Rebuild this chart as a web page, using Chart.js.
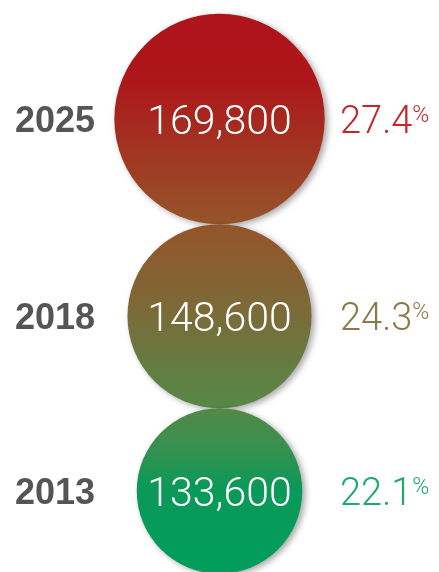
<!DOCTYPE html>
<html>
<head>
<meta charset="utf-8">
<script src="https://cdn.jsdelivr.net/npm/chart.js@4"></script>
<style>
  body { margin: 0; background: #fff; }
  #wrap { width: 439px; height: 572px; position: relative; }
</style>
</head>
<body>
<div id="wrap"><canvas id="burbujas"></canvas></div>
<script>
const years = ["2025", "2018", "2013"];
const totals = [169800, 148600, 133600];
const shares = [27.4, 24.3, 22.1];
const shareColors = ["#c0282c", "#8b7a47", "#1fa96c"];

// circles touch each other, so each centre sits one "radius + radius" below the previous
const centers = [];
totals.forEach((v, i) => {
  centers.push(i === 0 ? 0 : centers[i - 1] + totals[i - 1] + v);
});
const points = totals.map((v, i) => ({ x: 0.5, y: centers[i], v }));

const thinFont = "'Helvetica Neue', Roboto, 'Liberation Sans', sans-serif";

function fillGradient(c) {
  const chart = c.chart;
  const g = chart.ctx.createLinearGradient(0, 0, 0, chart.height);
  g.addColorStop(0, "#b0131a");
  g.addColorStop(0.14, "#ad161a");
  g.addColorStop(0.385, "#965329");
  g.addColorStop(0.54, "#7c6a38");
  g.addColorStop(0.705, "#578746");
  g.addColorStop(0.77, "#3d8f4e");
  g.addColorStop(0.855, "#0a9958");
  g.addColorStop(1, "#009d5b");
  return g;
}

function radiusFor(c) {
  if (!c.raw) return 0;
  const y = c.chart.scales.y;
  return Math.abs(y.getPixelForValue(c.raw.v) - y.getPixelForValue(0));
}

const sombra = {
  id: "sombra",
  beforeDatasetDraw(chart) {
    const ctx = chart.ctx;
    ctx.save();
    ctx.shadowColor = "rgba(0,0,0,0.35)";
    ctx.shadowBlur = 6;
    ctx.shadowOffsetX = 3;
    ctx.shadowOffsetY = 2;
  },
  afterDatasetDraw(chart) {
    chart.ctx.restore();
  }
};

const textos = {
  id: "textos",
  afterDatasetsDraw(chart) {
    const ctx = chart.ctx;
    const meta = chart.getDatasetMeta(0);
    meta.data.forEach((el, i) => {
      const cx = el.x;
      const cy = el.y;
      ctx.save();

      // value inside the circle
      ctx.fillStyle = "#ffffff";
      ctx.font = "300 41px " + thinFont;
      ctx.textAlign = "center";
      ctx.textBaseline = "alphabetic";
      ctx.fillText(totals[i].toLocaleString("en-US"), cx, cy + 15);

      // year on the left
      ctx.fillStyle = "#555555";
      ctx.font = "bold 36px 'Liberation Sans', Arial, sans-serif";
      ctx.textAlign = "left";
      ctx.fillText(years[i], 15, cy + 13);

      // share on the right, with a small raised %
      const txt = shares[i].toFixed(1);
      ctx.fillStyle = shareColors[i];
      ctx.font = "300 38px " + thinFont;
      ctx.fillText(txt, 340, cy + 14);
      const w = ctx.measureText(txt).width;
      ctx.font = "300 23px " + thinFont;
      ctx.fillText("%", 340 + w, cy + 3);

      ctx.restore();
    });
  }
};

new Chart(document.getElementById("burbujas"), {
  type: "scatter",
  data: {
    datasets: [{
      data: points,
      pointRadius: radiusFor,
      pointHoverRadius: radiusFor,
      backgroundColor: fillGradient,
      borderWidth: 0,
      clip: false
    }]
  },
  options: {
    responsive: true,
    maintainAspectRatio: false,
    animation: false,
    events: [],
    layout: { padding: { top: 119, bottom: 81, left: 0, right: 0 } },
    scales: {
      x: { display: false, min: 0, max: 1 },
      y: { display: false, reverse: true, min: 0, max: centers[centers.length - 1] }
    },
    plugins: {
      legend: { display: false },
      tooltip: { enabled: false }
    }
  },
  plugins: [sombra, textos]
});
</script>
</body>
</html>
